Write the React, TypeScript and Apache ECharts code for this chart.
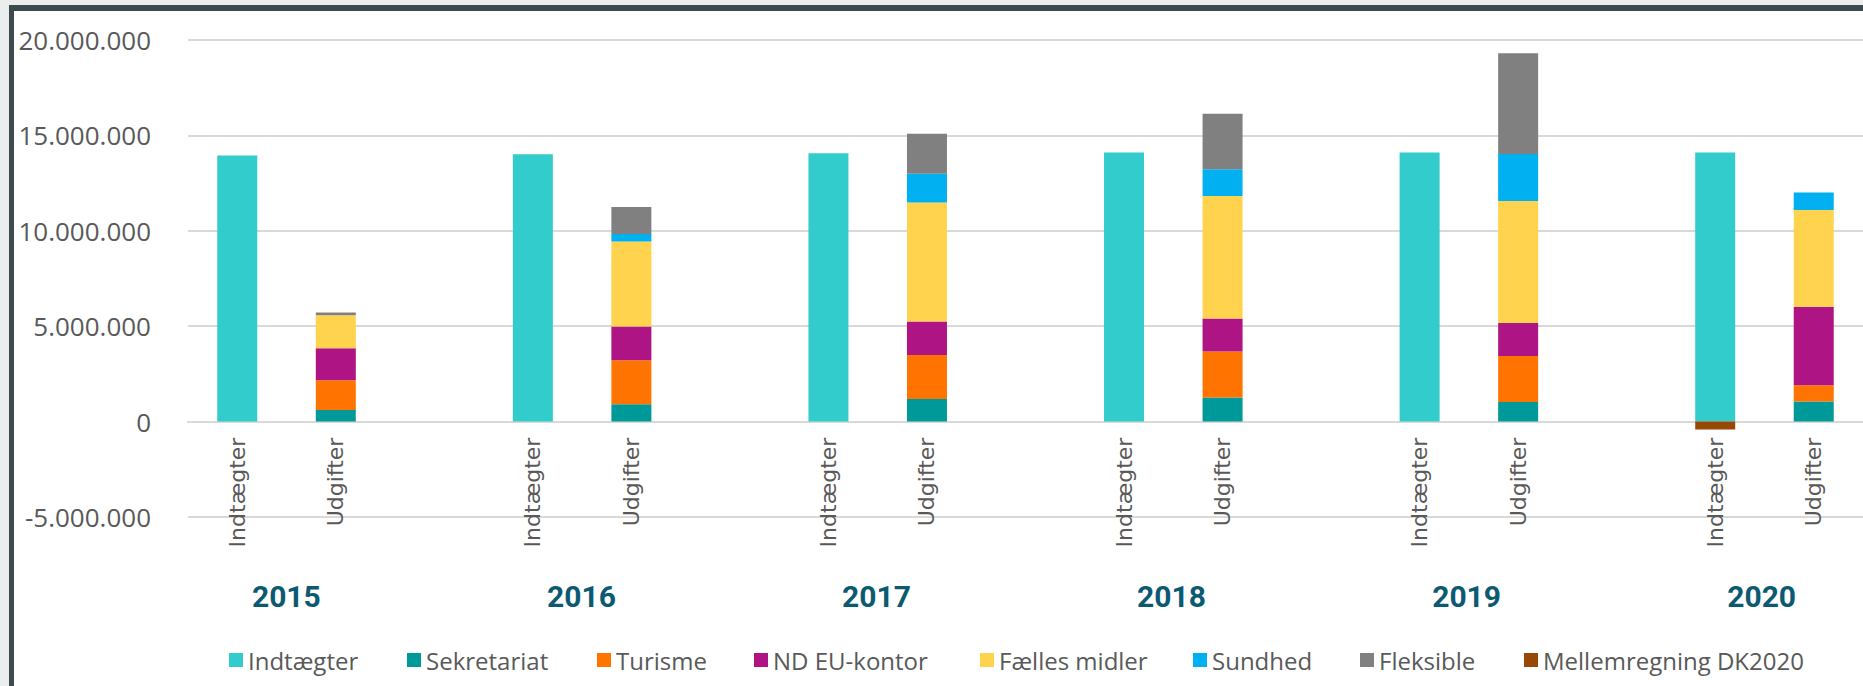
import React, { useEffect, useRef } from 'react';
import * as echarts from 'echarts';

const years = ['2015', '2016', '2017', '2018', '2019', '2020'];
const barLabels = ['Indtægter', 'Udgifter'];
const yTicks = { min: -5000000, max: 20000000, interval: 5000000 };

// Indtægter-søjlen
const indtaegter = [13940000, 14010000, 14060000, 14100000, 14100000, 14100000];
const mellemregning = [0, 0, 0, 0, 0, -420000];
// Udgifter-søjlen
const sekretariat = [610000, 910000, 1180000, 1260000, 1030000, 1050000];
const turisme = [1560000, 2310000, 2310000, 2410000, 2410000, 860000];
const ndEu = [1680000, 1760000, 1750000, 1730000, 1730000, 4110000];
const faelles = [1730000, 4460000, 6240000, 6420000, 6390000, 5070000];
const sundhed = [0, 390000, 1510000, 1400000, 2470000, 920000];
const fleksible = [140000, 1420000, 2100000, 2910000, 5280000, 0];

const categories: string[] = [];
years.forEach((_, i) => {
  categories.push(barLabels[0], barLabels[1]);
  if (i < years.length - 1) categories.push('');
});

// year labels sit between the two bars of each year (boundaryGap false half-slot axis)
const yearAxis: string[] = [];
for (let j = 0; j < categories.length * 2 + 1; j++) yearAxis.push('');
years.forEach((y, k) => {
  yearAxis[6 * k + 2] = y;
});

function slot(values: number[], offset: number) {
  const out: (number | null)[] = categories.map(() => null);
  values.forEach((v, i) => {
    out[3 * i + offset] = v === 0 ? null : v;
  });
  return out;
}

const seriesDefs = [
  { name: 'Indtægter', color: '#33CCCC', values: indtaegter, offset: 0 },
  { name: 'Sekretariat', color: '#009999', values: sekretariat, offset: 1 },
  { name: 'Turisme', color: '#FF7300', values: turisme, offset: 1 },
  { name: 'ND EU-kontor', color: '#AE1484', values: ndEu, offset: 1 },
  { name: 'Fælles midler', color: '#FFD34D', values: faelles, offset: 1 },
  { name: 'Sundhed', color: '#00B0F0', values: sundhed, offset: 1 },
  { name: 'Fleksible', color: '#808080', values: fleksible, offset: 1 },
  { name: 'Mellemregning DK2020', color: '#974806', values: mellemregning, offset: 0 },
];

const legendLefts = [229, 407, 597, 754, 980, 1193, 1360, 1524];

function fmt(v: number) {
  const s = String(Math.abs(v)).replace(/\B(?=(\d{3})+(?!\d))/g, '.');
  return (v < 0 ? '-' : '') + s;
}

export default function App() {
  const ref = useRef<HTMLDivElement>(null);
  useEffect(() => {
    const chart = echarts.init(ref.current!, null, { renderer: 'svg', width: 1863, height: 686 });
    const H = 686;
    const top = 40;
    const bottom = 169;
    const plotH = H - top - bottom;
    // pixel row of value 0 inside the main grid
    const zeroY = top + (yTicks.max / (yTicks.max - yTicks.min)) * plotH;
    const gridBox = { left: 188, right: -1, top, bottom, containLabel: false };
    const labelGrid = { left: 188, right: -1, top, bottom: H - zeroY, containLabel: false };
    chart.setOption({
      animation: false,
      grid: [gridBox, gridBox, labelGrid],
      legend: seriesDefs.map((s, i) => ({
        data: [s.name],
        left: legendLefts[i],
        top: 646,
        padding: 0,
        itemWidth: 14,
        itemHeight: 14,
        icon: 'rect',
        textStyle: { fontFamily: 'Open Sans', fontSize: 24, color: '#595959', lineHeight: 28 },
      })),
      xAxis: [
        {
          type: 'category',
          gridIndex: 0,
          data: categories,
          axisLine: { show: false },
          axisTick: { show: false },
          axisLabel: { show: false },
        },
        {
          type: 'category',
          gridIndex: 1,
          data: yearAxis,
          boundaryGap: false,
          position: 'bottom',
          axisLine: { show: false, onZero: false },
          axisTick: { show: false },
          splitLine: { show: false },
          axisLabel: {
            interval: 0,
            margin: 64,
            fontFamily: 'Roboto',
            fontWeight: 'bold',
            fontSize: 30,
            color: '#0C5A72',
          },
        },
        {
          type: 'category',
          gridIndex: 2,
          data: categories,
          position: 'bottom',
          axisLine: { show: true, onZero: false, lineStyle: { color: '#d9d9d9', width: 2 } },
          axisTick: { show: false },
          splitLine: { show: false },
          axisLabel: {
            interval: 0,
            rotate: 90,
            margin: 16,
            fontFamily: 'DejaVu Sans',
            fontSize: 22,
            color: '#595959',
          },
        },
      ],
      yAxis: [
        {
          type: 'value',
          gridIndex: 0,
          min: yTicks.min,
          max: yTicks.max,
          interval: yTicks.interval,
          axisLine: { show: false },
          axisTick: { show: false },
          splitLine: { lineStyle: { color: '#d9d9d9', width: 2 } },
          axisLabel: {
            formatter: (v: number) => fmt(v),
            margin: 37,
            fontFamily: 'Open Sans',
            fontSize: 26,
            color: '#595959',
          },
        },
        {
          type: 'value',
          gridIndex: 1,
          min: yTicks.min,
          max: yTicks.max,
          interval: yTicks.interval,
          show: false,
        },
        {
          type: 'value',
          gridIndex: 2,
          min: 0,
          max: yTicks.max,
          interval: yTicks.interval,
          show: false,
        },
      ],
      series: seriesDefs.map((s) => ({
        name: s.name,
        type: 'bar',
        stack: 'total',
        barWidth: 40,
        xAxisIndex: 0,
        yAxisIndex: 0,
        itemStyle: { color: s.color },
        data: slot(s.values, s.offset),
      })),
    });
    return () => chart.dispose();
  }, []);
  return (
    <div style={{ position: 'fixed', left: 0, top: 0, width: 1863, height: 686, background: '#eceeee', overflow: 'hidden' }}>
      <div
        style={{
          position: 'absolute',
          left: 9,
          top: 5,
          right: 0,
          bottom: 0,
          borderLeft: '5px solid #3d4b50',
          borderTop: '6px solid #3d4b50',
          background: '#ffffff',
        }}
      />
      <div ref={ref} style={{ position: 'absolute', left: 0, top: 0, width: 1863, height: 686 }} />
    </div>
  );
}
